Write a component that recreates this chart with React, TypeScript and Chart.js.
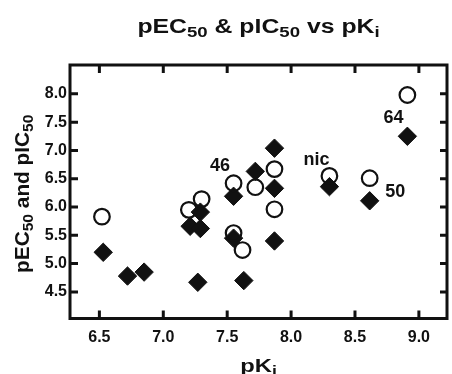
import React, { useEffect, useRef } from "react";
import { Chart, registerables } from "chart.js";

Chart.register(...registerables);

// ---- data ----
const pKiEC = [6.52, 7.2, 7.3, 7.55, 7.55, 7.62, 7.72, 7.87, 7.87, 8.3, 8.615, 8.91];
const pEC50 = [5.83, 5.95, 6.14, 6.42, 5.54, 5.24, 6.35, 6.67, 5.96, 6.55, 6.51, 7.98];

const pKiIC = [6.53, 6.72, 6.85, 7.21, 7.27, 7.29, 7.29, 7.55, 7.55, 7.63, 7.72, 7.87, 7.87, 7.87, 8.3, 8.615, 8.91];
const pIC50 = [5.2, 4.78, 4.85, 5.66, 4.67, 5.91, 5.62, 6.19, 5.45, 4.7, 6.63, 7.04, 6.33, 5.4, 6.36, 6.11, 7.25];

const xTicks = [6.5, 7.0, 7.5, 8.0, 8.5, 9.0];
const xTickLabels = ["6.5", "7.0", "7.5", "8.0", "8.5", "9.0"];
const yTicks = [4.5, 5.0, 5.5, 6.0, 6.5, 7.0, 7.5, 8.0];
const yTickLabels = ["4.5", "5.0", "5.5", "6.0", "6.5", "7.0", "7.5", "8.0"];

const pointLabels = ["46", "nic", "64", "50"];
const pointLabelX = [7.443, 8.198, 8.802, 8.816];
const pointLabelY = [6.716, 6.834, 7.581, 6.263];

const FONT = "'Liberation Sans', Arial, Helvetica, sans-serif";
const INK = "#111111";

type Part = { t: string; sub?: boolean };

function drawRich(
  ctx: CanvasRenderingContext2D,
  parts: Part[],
  size: number,
  subSize: number,
  subShift: number,
  stretch: number
) {
  let total = 0;
  const widths: number[] = [];
  for (const p of parts) {
    ctx.font = `bold ${p.sub ? subSize : size}px ${FONT}`;
    const w = ctx.measureText(p.t).width;
    widths.push(w);
    total += w;
  }
  ctx.scale(stretch, 1);
  let x = -total / 2;
  ctx.textAlign = "left";
  ctx.textBaseline = "alphabetic";
  parts.forEach((p, i) => {
    ctx.font = `bold ${p.sub ? subSize : size}px ${FONT}`;
    ctx.fillText(p.t, x, p.sub ? subShift : 0);
    x += widths[i];
  });
}

const decorPlugin = {
  id: "decor",
  afterDraw(chart: any) {
    const { ctx, chartArea: a } = chart;
    const xs = chart.scales.x;
    const ys = chart.scales.y;
    ctx.save();
    ctx.strokeStyle = INK;
    ctx.fillStyle = INK;
    ctx.lineWidth = 3;
    ctx.lineCap = "butt";
    ctx.strokeRect(a.left, a.top, a.right - a.left, a.bottom - a.top);
    ctx.beginPath();
    for (const v of xTicks) {
      const px = xs.getPixelForValue(v);
      ctx.moveTo(px, a.bottom);
      ctx.lineTo(px, a.bottom - 8);
      ctx.moveTo(px, a.top);
      ctx.lineTo(px, a.top + 8);
    }
    for (const v of yTicks) {
      const py = ys.getPixelForValue(v);
      ctx.moveTo(a.left, py);
      ctx.lineTo(a.left + 8, py);
      ctx.moveTo(a.right, py);
      ctx.lineTo(a.right - 7, py);
    }
    ctx.stroke();

    // point labels
    ctx.font = `bold 18px ${FONT}`;
    ctx.textAlign = "center";
    ctx.textBaseline = "middle";
    pointLabels.forEach((t, i) => {
      ctx.fillText(t, xs.getPixelForValue(pointLabelX[i]), ys.getPixelForValue(pointLabelY[i]));
    });

    const cx = (a.left + a.right) / 2;
    // main title
    ctx.save();
    ctx.translate(cx, 32.5);
    drawRich(
      ctx,
      [{ t: "pEC" }, { t: "50", sub: true }, { t: " & pIC" }, { t: "50", sub: true }, { t: " vs pK" }, { t: "i", sub: true }],
      20,
      15,
      4,
      1.24
    );
    ctx.restore();

    // x title
    ctx.save();
    ctx.translate(cx, 372);
    drawRich(ctx, [{ t: "pK" }, { t: "i", sub: true }], 19, 14, 4, 1.25);
    ctx.restore();

    // y title
    ctx.save();
    ctx.translate(29, (a.top + a.bottom) / 2 + 2);
    ctx.rotate(-Math.PI / 2);
    drawRich(ctx, [{ t: "pEC" }, { t: "50", sub: true }, { t: " and pIC" }, { t: "50", sub: true }], 20, 15, 4, 1.04);
    ctx.restore();

    ctx.restore();
  },
};

export default function App() {
  const ref = useRef<HTMLCanvasElement | null>(null);

  useEffect(() => {
    if (!ref.current) return;
    const circles = pKiEC.map((x, i) => ({ x, y: pEC50[i] }));
    const diamonds = pKiIC.map((x, i) => ({ x, y: pIC50[i] }));
    const chart = new Chart(ref.current, {
      type: "scatter",
      data: {
        datasets: [
          {
            label: "pEC50",
            data: circles,
            pointStyle: "circle",
            pointRadius: 7.8,
            pointBorderWidth: 2.2,
            pointBackgroundColor: "rgba(255,255,255,0)",
            pointBorderColor: INK,
            showLine: false,
          },
          {
            label: "pIC50",
            data: diamonds,
            pointStyle: "rectRot",
            pointRadius: 9.2,
            pointBorderWidth: 1,
            pointBackgroundColor: INK,
            pointBorderColor: INK,
            showLine: false,
          },
        ],
      },
      options: {
        animation: false,
        responsive: false,
        layout: { autoPadding: false, padding: { top: 65, right: 5, left: 0, bottom: 0 } },
        plugins: {
          legend: { display: false },
          tooltip: { enabled: false },
          title: { display: false },
        },
        scales: {
          x: {
            type: "linear",
            position: "bottom",
            min: 6.27,
            max: 9.22,
            grid: { display: false, drawTicks: false },
            border: { display: false },
            afterBuildTicks: (s: any) => {
              s.ticks = xTicks.map((v) => ({ value: v }));
            },
            afterFit: (s: any) => {
              s.height = 55.5;
              s.paddingLeft = 0;
              s.paddingRight = 0;
            },
            ticks: {
              padding: 9,
              color: INK,
              font: { family: FONT, size: 16, weight: "bold" },
              callback: (_v: any, i: number) => xTickLabels[i],
            },
          },
          y: {
            type: "linear",
            position: "left",
            min: 4.03,
            max: 8.51,
            grid: { display: false, drawTicks: false },
            border: { display: false },
            afterBuildTicks: (s: any) => {
              s.ticks = yTicks.map((v) => ({ value: v }));
            },
            afterFit: (s: any) => {
              s.width = 70;
              s.paddingTop = 0;
              s.paddingBottom = 0;
            },
            ticks: {
              padding: 3,
              color: INK,
              font: { family: FONT, size: 16, weight: "bold" },
              callback: (_v: any, i: number) => yTickLabels[i],
            },
          },
        },
      },
      plugins: [decorPlugin],
    });
    return () => chart.destroy();
  }, []);

  return (
    <div style={{ position: "fixed", left: 0, top: 0, width: 452, height: 374, background: "#fff" }}>
      <canvas ref={ref} width={452} height={374} style={{ display: "block", width: 452, height: 374 }} />
    </div>
  );
}
